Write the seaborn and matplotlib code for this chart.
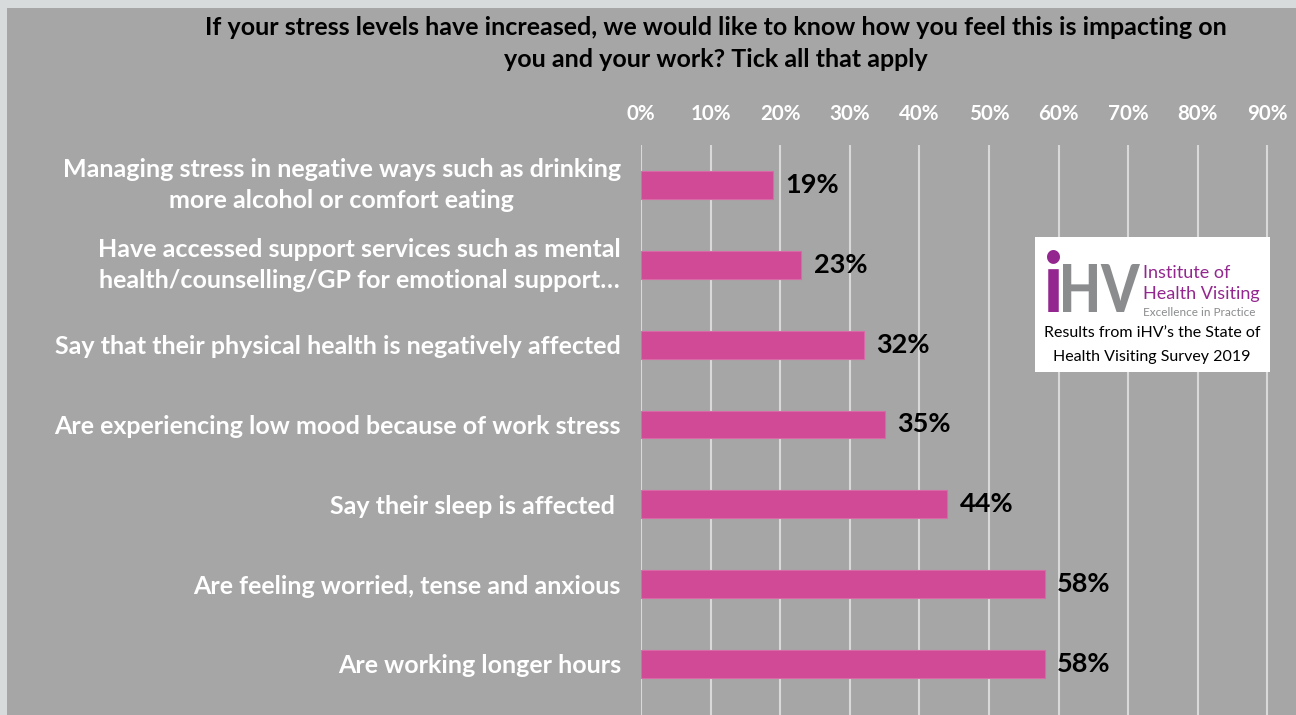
import matplotlib
matplotlib.use("Agg")
import matplotlib.pyplot as plt
from matplotlib.patches import Rectangle, PathPatch
from matplotlib.textpath import TextPath
from matplotlib.font_manager import FontProperties
from matplotlib.transforms import Affine2D, IdentityTransform
from matplotlib.ticker import PercentFormatter
import seaborn as sns
import pandas as pd

# Survey responses (share of respondents ticking each option)
categories = [
    "Managing stress in negative ways such as drinking\nmore alcohol or comfort eating",
    "Have accessed support services such as mental\nhealth/counselling/GP for emotional support\u2026",
    "Say that their physical health is negatively affected",
    "Are experiencing low mood because of work stress",
    "Say their sleep is affected ",
    "Are feeling worried, tense and anxious",
    "Are working longer hours",
]
values = [0.19, 0.23, 0.32, 0.35, 0.44, 0.58, 0.58]
x_ticks = [0.0, 0.1, 0.2, 0.3, 0.4, 0.5, 0.6, 0.7, 0.8, 0.9]

title = ("If your stress levels have increased, we would like to know how you feel this is impacting on\n"
         "you and your work? Tick all that apply")

W, H = 1296, 715
PANEL = "#a6a6a6"
BORDER = "#d8dbdc"
BAR = "#d04a96"
GRID = "#d9d9d9"
FONT = "Lato"

sns.set_theme(style="white")
plt.rcParams["font.family"] = [FONT, "DejaVu Sans"]

fig = plt.figure(figsize=(W / 100, H / 100), dpi=100)
fig.patch.set_facecolor(BORDER)
fig.patches.append(Rectangle((7 / W, 0), 1 - 7 / W, 1 - 8 / H, transform=fig.transFigure,
                             facecolor=PANEL, edgecolor="none", zorder=-5))

ax_left, ax_top = 641, 145
ax = fig.add_axes([ax_left / W, 0, (W - ax_left) / W, (H - ax_top) / H])
ax.set_facecolor("none")

df = pd.DataFrame({"category": categories, "value": values})
sns.barplot(data=df, x="value", y="category", orient="h", color=BAR, saturation=1,
            width=0.35, edgecolor="#d86aa8", linewidth=0.8, ax=ax, zorder=3)

px_per_unit = 696.0  # pixels per 100%
ax.set_xlim(0, (W - ax_left) / px_per_unit)
step = 79.83
ax.set_ylim((H - 185) / step, -40 / step)

ax.set_xticks(x_ticks)
ax.xaxis.set_major_formatter(PercentFormatter(1.0, decimals=0))
ax.xaxis.tick_top()
ax.tick_params(axis="x", length=0, pad=15, labelsize=14.8, labelcolor="white")
for lbl in ax.get_xticklabels():
    lbl.set_fontweight("bold")
ax.tick_params(axis="y", length=0, pad=14.5, labelsize=18, labelcolor="white")
for lbl in ax.get_yticklabels():
    lbl.set_fontweight("bold")
    lbl.set_multialignment("center")
    lbl.set_linespacing(1.45)
    if "\n" in lbl.get_text():
        lbl.set_verticalalignment("center")
ax.set_xlabel("")
ax.set_ylabel("")
ax.grid(axis="x", color=GRID, linewidth=1.5, zorder=0)
ax.set_axisbelow(True)
for s in ax.spines.values():
    s.set_visible(False)

for cont in ax.containers:
    ax.bar_label(cont, labels=[f"{v:.0%}" for v in values], padding=9,
                 fontsize=19.5, fontweight="bold", color="black")

fig.text(716 / W, 1 - 16 / H, title, ha="center", va="top", fontsize=18,
         fontweight="bold", color="black", linespacing=1.45)

# Institute of Health Visiting badge
bx0, by0, bx1, by1 = 1035, 237, 1270, 372
fig.patches.append(Rectangle((bx0 / W, 1 - by1 / H), (bx1 - bx0) / W, (by1 - by0) / H,
                             transform=fig.transFigure, facecolor="white",
                             edgecolor="none", zorder=5))
PURPLE = "#93278f"
LOGO_GREY = "#8a8c8e"


def logo_glyphs(s, color, x0, x1, top, base):
    """Draw s as a filled path squeezed into the pixel box x0..x1, top..base."""
    tp = TextPath((0, 0), s, size=100, prop=FontProperties(family=FONT, weight="black"))
    ext = tp.get_extents()
    sx = (x1 - x0) / ext.width
    sy = (base - top) / ext.height
    tr = (Affine2D().translate(-ext.x0, -ext.y0).scale(sx, sy)
          .translate(x0, H - base))
    fig.patches.append(PathPatch(tr.transform_path(tp), facecolor=color, edgecolor="none",
                                 transform=IdentityTransform(), zorder=6))


logo_glyphs("i", PURPLE, 1047, 1060, 250, 312)
logo_glyphs("HV", LOGO_GREY, 1063, 1140, 264, 312)
fig.text(1143 / W, 1 - 278 / H, "Institute of", fontsize=13, color=PURPLE,
         ha="left", va="baseline", zorder=6)
fig.text(1143 / W, 1 - 299 / H, "Health Visiting", fontsize=13, color=PURPLE,
         ha="left", va="baseline", zorder=6)
fig.text(1143 / W, 1 - 316 / H, "Excellence in Practice", fontsize=8.5, color=LOGO_GREY,
         ha="left", va="baseline", zorder=6)
fig.text(1152 / W, 1 - 337 / H, "Results from iHV\u2019s the State of", fontsize=11.5,
         color="black", ha="center", va="baseline", zorder=6)
fig.text(1152 / W, 1 - 361 / H, "Health Visiting Survey 2019", fontsize=11.5,
         color="black", ha="center", va="baseline", zorder=6)

fig.savefig("out.png", dpi=100, facecolor=fig.get_facecolor())
